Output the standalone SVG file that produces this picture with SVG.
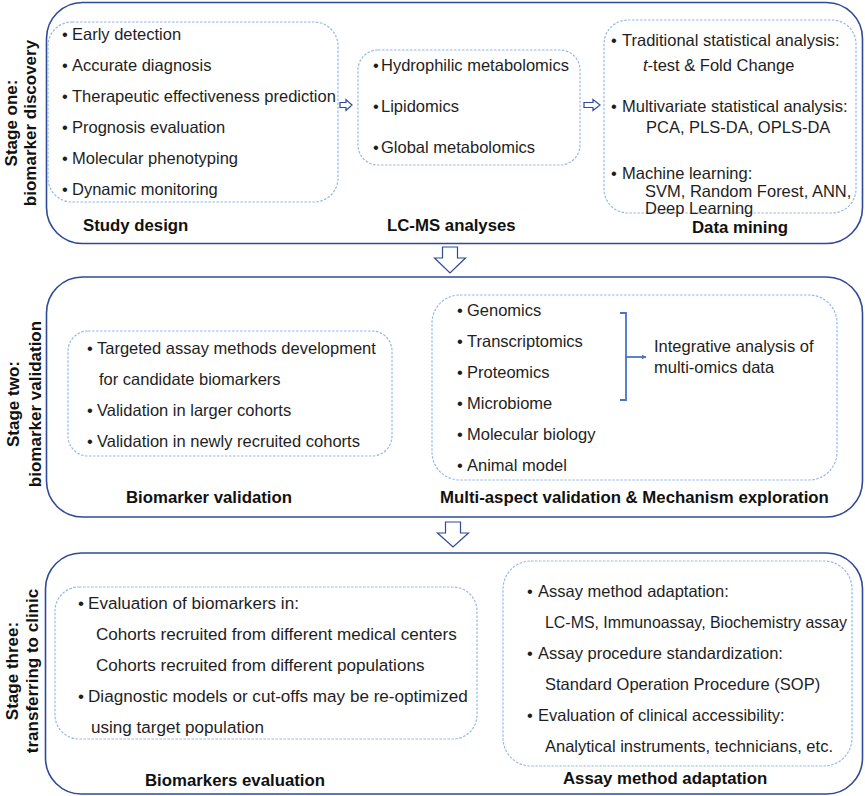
<svg xmlns="http://www.w3.org/2000/svg" width="865" height="796" viewBox="0 0 865 796">
<defs>
<style>
.outer{fill:none;stroke:#2f4a96;stroke-width:1.6}
.inner{fill:none;stroke:#94b9e6;stroke-width:1.2;stroke-dasharray:2.5 1.5}
.t{font-family:"Liberation Sans",Arial,sans-serif;font-size:16.5px;fill:#1e1e1e}
.t17{font-family:"Liberation Sans",Arial,sans-serif;font-size:17.1px;fill:#1e1e1e}
.b{font-family:"Liberation Sans",Arial,sans-serif;font-size:16.8px;font-weight:bold;fill:#111}
.s{font-family:"Liberation Sans",Arial,sans-serif;font-size:17px;font-weight:bold;fill:#111;text-anchor:middle}
.harrow{fill:#fff;stroke:#2f4a96;stroke-width:1.2}
.blue{fill:none;stroke:#4a74c9;stroke-width:1.8}
</style>
<marker id="ah" viewBox="0 0 10 10" refX="9" refY="5" markerWidth="5" markerHeight="5" orient="auto" markerUnits="userSpaceOnUse">
<path d="M0,0 L10,5 L0,10 Z" fill="#4a74c9"/>
</marker>
</defs>

<g id="stage-one">
<rect class="outer" x="46.5" y="2.5" width="816" height="241" rx="36"/>
<text class="s" transform="translate(17,123) rotate(-90)">Stage one:</text>
<text class="s" transform="translate(36,123) rotate(-90)">biomarker discovery</text>

<g id="study-design">
<rect class="inner" x="48" y="22" width="290" height="180" rx="24"/>
<g class="t">
<text x="62" y="40">•</text><text x="72" y="40">Early detection</text>
<text x="62" y="71">•</text><text x="72" y="71">Accurate diagnosis</text>
<text x="62" y="102">•</text><text x="72" y="102">Therapeutic effectiveness prediction</text>
<text x="62" y="133">•</text><text x="72" y="133">Prognosis evaluation</text>
<text x="62" y="164">•</text><text x="72" y="164">Molecular phenotyping</text>
<text x="62" y="195">•</text><text x="72" y="195">Dynamic monitoring</text>
</g>
<text class="b" x="83" y="231">Study design</text>
</g>

<g id="lcms">
<rect class="inner" x="358" y="50" width="222" height="115" rx="20"/>
<g class="t">
<text x="373" y="71">•</text><text x="381" y="71">Hydrophilic metabolomics</text>
<text x="373" y="112">•</text><text x="381" y="112">Lipidomics</text>
<text x="373" y="153">•</text><text x="381" y="153">Global metabolomics</text>
</g>
<text class="b" x="387" y="231">LC-MS analyses</text>
</g>

<g id="data-mining">
<rect class="inner" x="604" y="20" width="252" height="193" rx="24"/>
<g class="t">
<text x="611" y="46">•</text><text x="622" y="46">Traditional statistical analysis:</text>
<text x="643" y="71"><tspan font-style="italic">t</tspan>-test &amp; Fold Change</text>
<text x="611" y="112">•</text><text x="622" y="112">Multivariate statistical analysis:</text>
<text x="646" y="133">PCA, PLS-DA, OPLS-DA</text>
<text x="611" y="179">•</text><text x="622" y="179">Machine learning:</text>
<text x="645" y="197">SVM, Random Forest, ANN,</text>
<text x="645" y="214">Deep Learning</text>
</g>
<text class="b" x="692" y="233">Data mining</text>
</g>
</g>

<g id="stage-two">
<rect class="outer" x="46.5" y="277" width="816" height="240" rx="36"/>
<text class="s" transform="translate(18.5,404) rotate(-90)">Stage two:</text>
<text class="s" transform="translate(40.5,404) rotate(-90)">biomarker validation</text>

<g id="biomarker-validation">
<rect class="inner" x="68" y="331" width="324" height="125" rx="20"/>
<g class="t">
<text x="87" y="354">•</text><text x="97" y="354">Targeted assay methods development</text>
<text x="99" y="385">for candidate biomarkers</text>
<text x="87" y="416">•</text><text x="97" y="416">Validation in larger cohorts</text>
<text x="87" y="447">•</text><text x="97" y="447">Validation in newly recruited cohorts</text>
</g>
<text class="b" x="126" y="503">Biomarker validation</text>
</g>

<g id="multi-aspect">
<rect class="inner" x="432" y="295" width="405" height="185" rx="28"/>
<g class="t">
<text x="457" y="316">•</text><text x="467" y="316">Genomics</text>
<text x="457" y="347">•</text><text x="467" y="347">Transcriptomics</text>
<text x="457" y="378">•</text><text x="467" y="378">Proteomics</text>
<text x="457" y="409">•</text><text x="467" y="409">Microbiome</text>
<text x="457" y="440">•</text><text x="467" y="440">Molecular biology</text>
<text x="457" y="471">•</text><text x="467" y="471">Animal model</text>
<text x="654" y="352">Integrative analysis of</text>
<text x="654" y="373">multi-omics data</text>
</g>
<text class="b" x="440" y="503">Multi-aspect validation &amp; Mechanism exploration</text>
</g>
</g>

<g id="stage-three">
<rect class="outer" x="45.5" y="553" width="817" height="241" rx="36"/>
<text class="s" transform="translate(17.5,671) rotate(-90)">Stage three:</text>
<text class="s" transform="translate(37.5,671) rotate(-90)">transferring to clinic</text>

<g id="biomarkers-evaluation">
<rect class="inner" x="55" y="587" width="422" height="152" rx="24"/>
<g class="t17">
<text x="78" y="609">•</text><text x="88" y="609">Evaluation of biomarkers in:</text>
<text x="96" y="640">Cohorts recruited from different medical centers</text>
<text x="96" y="671">Cohorts recruited from different populations</text>
<text x="78" y="702">•</text><text x="88" y="702">Diagnostic models or cut-offs may be re-optimized</text>
<text x="91" y="733">using target population</text>
</g>
<text class="b" x="145" y="786">Biomarkers evaluation</text>
</g>

<g id="assay-method">
<rect class="inner" x="503" y="561" width="349" height="205" rx="28"/>
<g class="t">
<text x="527" y="597">•</text><text x="538" y="597">Assay method adaptation:</text>
<text x="545" y="628" textLength="302" lengthAdjust="spacingAndGlyphs">LC-MS, Immunoassay, Biochemistry assay</text>
<text x="527" y="659">•</text><text x="538" y="659">Assay procedure standardization:</text>
<text x="545" y="690">Standard Operation Procedure (SOP)</text>
<text x="527" y="721">•</text><text x="538" y="721">Evaluation of clinical accessibility:</text>
<text x="545" y="752">Analytical instruments, technicians, etc.</text>
</g>
<text class="b" x="563" y="784">Assay method adaptation</text>
</g>
</g>

<g id="connectors">
<path class="harrow" d="M340,102.5 H346 V99.5 L352,105 L346,110.5 V107.5 H340 Z"/>
<path class="harrow" d="M584,102.5 H593 V99.5 L600,105 L593,110.5 V107.5 H584 Z"/>
<path class="harrow" d="M442.5,247 H457.5 V258 H465.5 L450,273 L434.5,258 H442.5 Z"/>
<path class="harrow" d="M445.5,522 H460.5 V533 H468.5 L453,547 L437.5,533 H445.5 Z"/>
<path class="blue" d="M620,313 H626 V400 H620"/>
<path class="blue" d="M626,357 H646" marker-end="url(#ah)"/>
</g>
</svg>
